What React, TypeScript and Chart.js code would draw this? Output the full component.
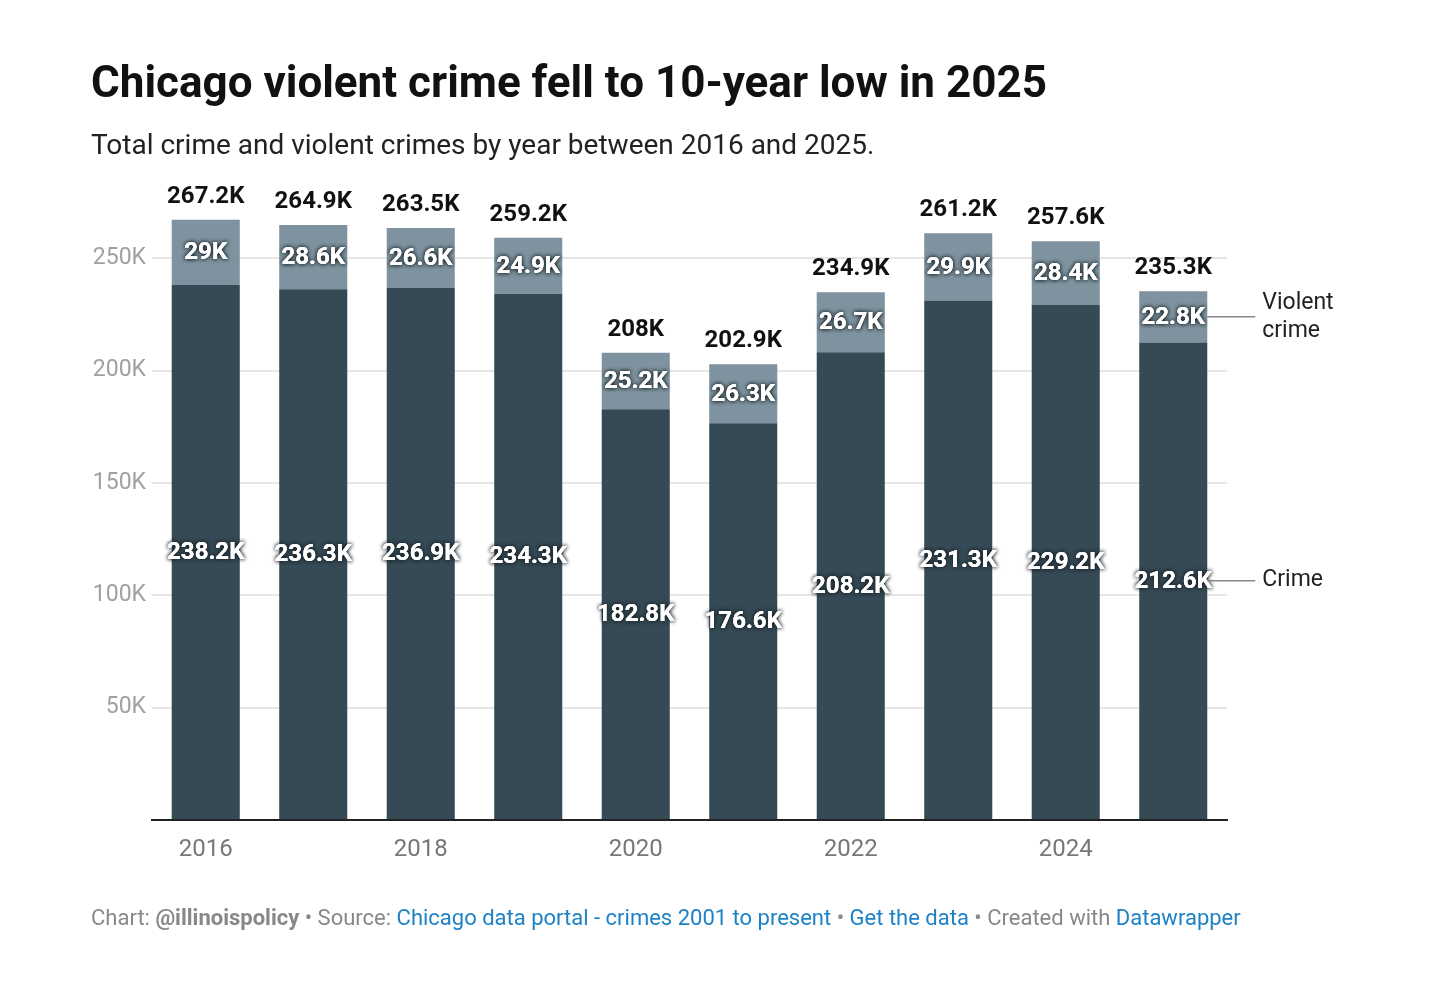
import { useEffect, useRef } from 'react';
import { Chart, registerables } from 'chart.js';

Chart.register(...registerables);

// values in thousands
const years = ['2016', '2017', '2018', '2019', '2020', '2021', '2022', '2023', '2024', '2025'];
const crime = [238.2, 236.3, 236.9, 234.3, 182.8, 176.6, 208.2, 231.3, 229.2, 212.6];
const violent = [29, 28.6, 26.6, 24.9, 25.2, 26.3, 26.7, 29.9, 28.4, 22.8];
const totals = [267.2, 264.9, 263.5, 259.2, 208, 202.9, 234.9, 261.2, 257.6, 235.3];

const DARK = '#364a55';
const LIGHT = '#7e939f';
const FONT = 'Roboto, "Noto Sans", sans-serif';

const fmt = (v: number) => `${v}K`;

const labelPlugin = {
  id: 'barLabels',
  afterDatasetsDraw(chart: any) {
    const ctx = chart.ctx as CanvasRenderingContext2D;
    const m0 = chart.getDatasetMeta(0).data;
    const m1 = chart.getDatasetMeta(1).data;
    ctx.save();
    ctx.textAlign = 'center';
    ctx.textBaseline = 'middle';
    ctx.font = `bold 24px ${FONT}`;

    const haloText = (t: string, x: number, y: number) => {
      ctx.fillStyle = '#fff';
      ctx.shadowColor = 'rgba(25,35,40,0.95)';
      ctx.shadowBlur = 4;
      ctx.fillText(t, x, y);
      ctx.fillText(t, x, y);
      ctx.shadowBlur = 0;
      ctx.shadowColor = 'transparent';
      ctx.fillText(t, x, y);
    };

    years.forEach((_, i) => {
      const a = m0[i];
      const b = m1[i];
      haloText(fmt(crime[i]), a.x, (a.y + a.base) / 2 + 1);
      haloText(fmt(violent[i]), b.x, (b.y + b.base) / 2 + 1);
      ctx.fillStyle = '#111';
      ctx.fillText(fmt(totals[i]), b.x, b.y - 23);
    });

    // series annotations next to the last bar
    const last = years.length - 1;
    const a = m0[last];
    const b = m1[last];
    const x0 = a.x + a.width / 2;
    const yV = (b.y + b.base) / 2;
    const yC = (a.y + a.base) / 2;
    ctx.strokeStyle = '#888';
    ctx.lineWidth = 1.5;
    ctx.beginPath();
    ctx.moveTo(x0, yV);
    ctx.lineTo(x0 + 48, yV);
    ctx.moveTo(x0, yC);
    ctx.lineTo(x0 + 48, yC);
    ctx.stroke();
    ctx.fillStyle = '#222';
    ctx.textAlign = 'left';
    ctx.font = `23px ${FONT}`;
    ctx.fillText('Violent', x0 + 55, yV - 14);
    ctx.fillText('crime', x0 + 55, yV + 14);
    ctx.fillText('Crime', x0 + 55, yC);
    ctx.restore();
  },
};

const BarChart = () => {
  const canvasRef = useRef<HTMLCanvasElement>(null);
  const chartRef = useRef<Chart | null>(null);

  useEffect(() => {
    if (!canvasRef.current) return;
    const ctx = canvasRef.current.getContext('2d');
    if (!ctx) return;

    chartRef.current = new Chart(ctx, {
      type: 'bar',
      data: {
        labels: years,
        datasets: [
          { label: 'Crime', data: crime, backgroundColor: DARK },
          { label: 'Violent crime', data: violent, backgroundColor: LIGHT },
        ],
      },
      options: {
        animation: false,
        responsive: true,
        maintainAspectRatio: false,
        events: [],
        layout: { padding: { left: 0, right: 215, top: 191, bottom: 122 } },
        datasets: {
          bar: { barPercentage: 0.633, categoryPercentage: 1 },
        },
        plugins: {
          legend: { display: false },
          tooltip: { enabled: false },
        },
        scales: {
          x: {
            stacked: true,
            grid: { display: false },
            border: { display: true, color: '#222', width: 2 },
            afterFit: (s: any) => { s.height = 50; },
            ticks: {
              autoSkip: false,
              maxRotation: 0,
              padding: 8,
              color: '#777',
              font: { family: FONT, size: 24 },
              callback: (_v: any, i: number) => (i % 2 === 0 ? years[i] : ''),
            },
          },
          y: {
            stacked: true,
            min: 0,
            max: 280,
            grid: {
              color: (c: any) => (c.tick && c.tick.value % 50 === 0 ? '#e6e6e6' : 'transparent'),
              lineWidth: 2,
              drawTicks: false,
            },
            border: { display: false },
            afterFit: (s: any) => { s.width = 152; },
            ticks: {
              stepSize: 50,
              padding: 6,
              color: '#a0a0a0',
              font: { family: FONT, size: 23 },
              callback: (v: any) => (v === 0 || v % 50 !== 0 ? '' : `${v}K`),
            },
          },
        },
      },
      plugins: [labelPlugin],
    });

    return () => {
      chartRef.current?.destroy();
      chartRef.current = null;
    };
  }, []);

  return (
    <div style={{ position: 'absolute', left: 0, top: 0, width: 1442, height: 992 }}>
      <canvas ref={canvasRef} />
    </div>
  );
};

const linkStyle = { color: '#1d82c6' };

export default function App() {
  return (
    <div
      style={{
        position: 'absolute',
        left: 0,
        top: 0,
        width: 1442,
        height: 992,
        background: '#fff',
        fontFamily: FONT,
        overflow: 'hidden',
      }}
    >
      <BarChart />
      <div
        style={{
          position: 'absolute',
          left: 91,
          top: 60,
          fontSize: 44,
          lineHeight: '44px',
          fontWeight: 700,
          color: '#111',
          whiteSpace: 'nowrap',
        }}
      >
        Chicago violent crime fell to 10-year low in 2025
      </div>
      <div
        style={{
          position: 'absolute',
          left: 91,
          top: 131,
          fontSize: 28,
          lineHeight: '28px',
          color: '#222',
          whiteSpace: 'nowrap',
        }}
      >
        Total crime and violent crimes by year between 2016 and 2025.
      </div>
      <div
        style={{
          position: 'absolute',
          left: 91,
          top: 907,
          fontSize: 22,
          lineHeight: '22px',
          color: '#888',
          whiteSpace: 'nowrap',
        }}
      >
        Chart: <b>@illinoispolicy</b> • Source:{' '}
        <span style={linkStyle}>Chicago data portal - crimes 2001 to present</span> •{' '}
        <span style={linkStyle}>Get the data</span> • Created with{' '}
        <span style={linkStyle}>Datawrapper</span>
      </div>
    </div>
  );
}
